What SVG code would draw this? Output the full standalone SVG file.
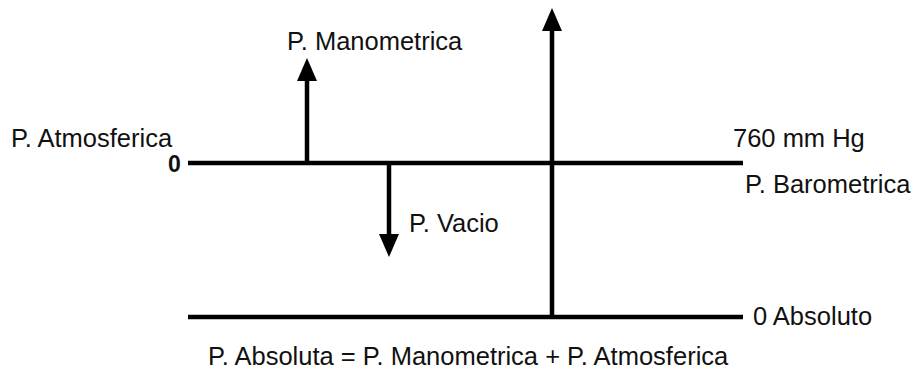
<svg xmlns="http://www.w3.org/2000/svg" width="913" height="370" viewBox="0 0 913 370">
<style>
.t{font-family:"Liberation Sans",Arial,sans-serif;font-size:25.5px;fill:#111}
.b{font-family:"Liberation Sans",Arial,sans-serif;font-size:23px;font-weight:bold;fill:#111}
.ln{stroke:#000;stroke-width:4.5;fill:none}
.ar{stroke:#000;stroke-width:4.5;fill:none;marker-end:url(#ah)}
</style>
<defs>
<marker id="ah" viewBox="0 0 23 20" markerWidth="23" markerHeight="20" refX="8" refY="10" orient="auto" markerUnits="userSpaceOnUse">
<path d="M0,0 L23,10 L0,20 z" fill="#000"/>
</marker>
</defs>
<rect width="913" height="370" fill="#fff"/>
<g id="connectors">
<line class="ln" x1="188" y1="163" x2="743" y2="163"/>
<line class="ln" x1="188" y1="317" x2="743" y2="317"/>
<line class="ar" x1="307" y1="163" x2="307" y2="73"/>
<line class="ar" x1="552" y1="319" x2="552" y2="23"/>
<line class="ar" x1="389" y1="163" x2="389" y2="242"/>
</g>
<g id="label-atm"><text class="t" x="11" y="147">P. Atmosferica</text></g>
<g id="label-zero"><text class="b" x="168" y="172">0</text></g>
<g id="label-mano"><text class="t" x="287" y="50">P. Manometrica</text></g>
<g id="label-760"><text class="t" x="733" y="147">760 mm Hg</text></g>
<g id="label-baro"><text class="t" x="745" y="193">P. Barometrica</text></g>
<g id="label-vacio"><text class="t" x="409" y="232">P. Vacio</text></g>
<g id="label-abs0"><text class="t" x="753" y="325">0 Absoluto</text></g>
<g id="label-formula"><text class="t" x="208" y="365">P. Absoluta = P. Manometrica + P. Atmosferica</text></g>
</svg>
